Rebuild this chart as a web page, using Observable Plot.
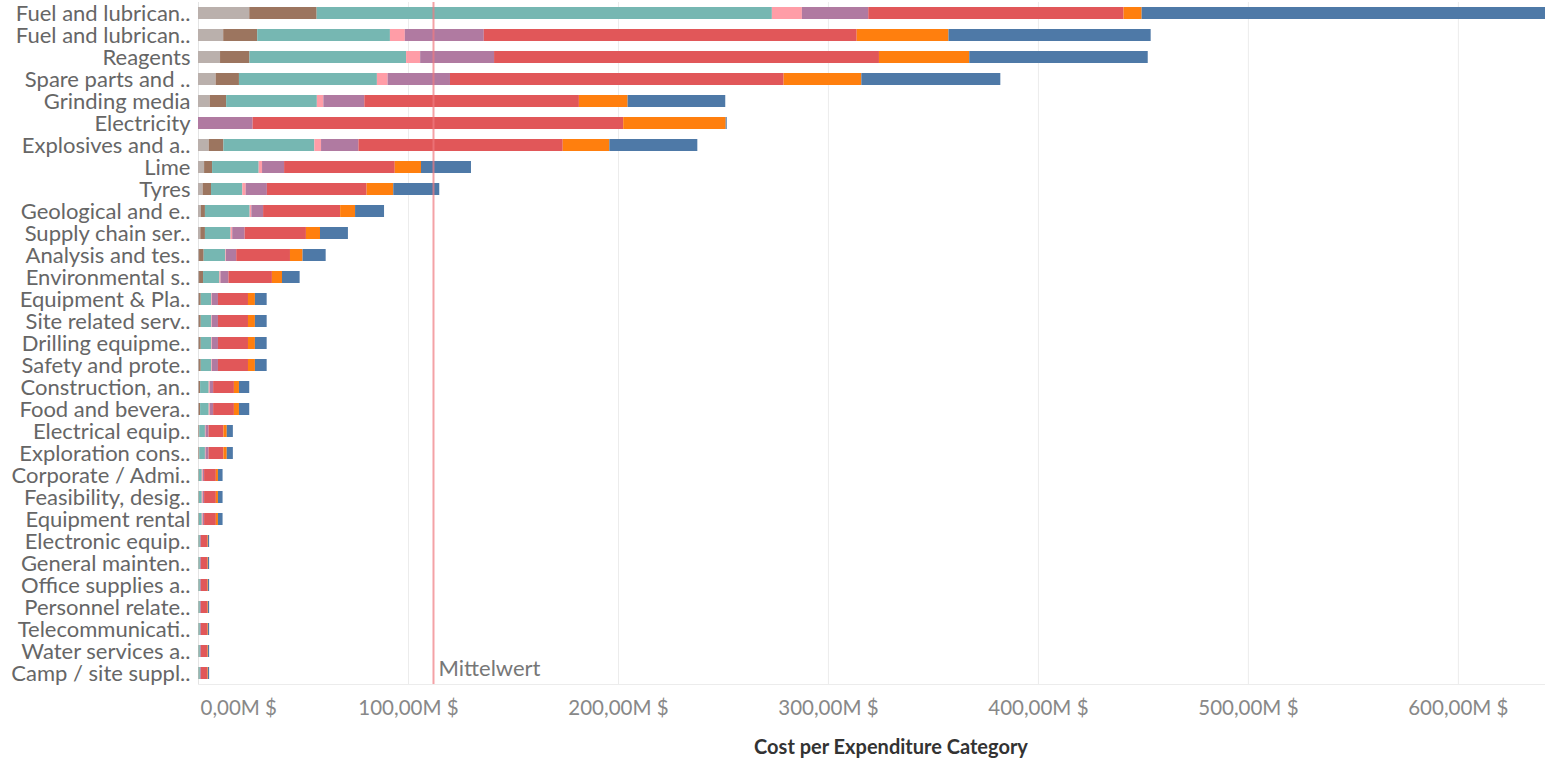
<!DOCTYPE html>
<html>
<head>
<meta charset="utf-8">
<script src="https://cdn.jsdelivr.net/npm/d3@7"></script>
<script src="https://cdn.jsdelivr.net/npm/@observablehq/plot@0.6"></script>
<style>
  html, body { margin: 0; padding: 0; background: #fff; overflow: hidden; }
  #chart { width: 1548px; }
  #title { position: absolute; left: 0; top: 733px; width: 1548px; box-sizing: border-box; padding-left: 234px;
           text-align: center; font: bold 20px Lato, sans-serif; color: #333; line-height: 26px; }
</style>
</head>
<body>
<div id="chart"></div>
<div id="title">Cost per Expenditure Category</div>
<script>
const labels = [
  "Fuel and lubrican..", "Fuel and lubrican..", "Reagents", "Spare parts and ..", "Grinding media",
  "Electricity", "Explosives and a..", "Lime", "Tyres", "Geological and e..", "Supply chain ser..",
  "Analysis and tes..", "Environmental s..", "Equipment & Pla..", "Site related serv..", "Drilling equipme..",
  "Safety and prote..", "Construction, an..", "Food and bevera..", "Electrical equip..", "Exploration cons..",
  "Corporate / Admi..", "Feasibility, desig..", "Equipment rental", "Electronic equip..", "General mainten..",
  "Office supplies a..", "Personnel relate..", "Telecommunicati..", "Water services a..", "Camp / site suppl.."
];
const seriesNames = ["S1", "S2", "S3", "S4", "S5", "S6", "S7", "S8"];
const seriesColors = ["#bab0ac", "#9c755f", "#76b7b2", "#ff9da7", "#b07aa1", "#e15759", "#ff7f0e", "#4e79a7"];

// values in millions of $
const s1 = [24.4, 12.0, 10.5, 8.4, 5.6, 0, 5.1, 2.9, 2.2, 1.4, 1.1, 0.5, 0.5, 0.5, 0.5, 0.5, 0.5, 0.4, 0.4, 0.3, 0.3, 0.3, 0.3, 0.3, 0.2, 0.2, 0.2, 0.2, 0.2, 0.2, 0.2];
const s2 = [32.1, 16.2, 14.0, 11.1, 7.8, 0, 7.0, 3.8, 4.0, 1.9, 2.2, 2.2, 1.9, 0.8, 0.8, 0.8, 0.8, 0.6, 0.6, 0.3, 0.3, 0.1, 0.1, 0.1, 0.1, 0.1, 0.1, 0.1, 0.1, 0.1, 0.1];
const s3 = [216.8, 63.2, 74.6, 65.7, 43.2, 0, 43.3, 22.2, 14.9, 21.3, 12.2, 10.3, 7.8, 5.0, 5.0, 5.0, 5.0, 4.1, 4.1, 2.7, 2.7, 1.4, 1.4, 1.4, 0.6, 0.6, 0.6, 0.6, 0.6, 0.6, 0.6];
const s4 = [14.3, 7.1, 6.7, 5.1, 3.1, 0, 3.2, 1.6, 1.6, 0.8, 0.8, 0.3, 0.5, 0.3, 0.3, 0.3, 0.3, 0.5, 0.5, 0.3, 0.3, 0.5, 0.5, 0.5, 0.1, 0.1, 0.1, 0.1, 0.1, 0.1, 0.1];
const s5 = [31.6, 37.6, 35.2, 29.7, 19.5, 26.0, 17.8, 10.5, 10.1, 5.6, 5.9, 4.9, 3.8, 2.9, 2.9, 2.9, 2.9, 1.6, 1.6, 1.4, 1.4, 0.6, 0.6, 0.6, 0.4, 0.4, 0.4, 0.4, 0.4, 0.4, 0.4];
const s6 = [121.6, 177.6, 183.3, 158.9, 102.2, 176.5, 97.3, 52.7, 47.5, 36.7, 29.2, 25.6, 20.7, 14.3, 14.3, 14.3, 14.3, 9.9, 9.9, 7.1, 7.1, 5.6, 5.6, 5.6, 3.0, 3.0, 3.0, 3.0, 3.0, 3.0, 3.0];
const s7 = [8.6, 43.7, 43.0, 37.0, 23.2, 48.8, 22.2, 12.5, 12.7, 7.1, 6.7, 6.0, 4.8, 3.3, 3.3, 3.3, 3.3, 2.4, 2.4, 1.6, 1.6, 1.0, 1.0, 1.0, 0.3, 0.3, 0.3, 0.3, 0.3, 0.3, 0.3];
const s8 = [192.1, 96.3, 85.0, 66.2, 46.5, 0.5, 41.9, 23.8, 21.9, 13.8, 13.3, 11.0, 8.4, 5.6, 5.6, 5.6, 5.6, 4.9, 4.9, 2.9, 2.9, 2.2, 2.2, 2.2, 0.6, 0.6, 0.6, 0.6, 0.6, 0.6, 0.6];
const xTicks = [0, 100, 200, 300, 400, 500, 600];
const meanLabel = "Mittelwert";

const seriesValues = [s1, s2, s3, s4, s5, s6, s7, s8];
const ids = labels.map((d, i) => i);
const data = [];
seriesValues.forEach((vals, si) => {
  vals.forEach((v, i) => data.push({id: i, series: seriesNames[si], value: v}));
});
const totals = ids.map(i => d3.sum(seriesValues, s => s[i]));
const mean = d3.mean(totals);
const xMax = d3.max(totals);
const fmt = d => d.toFixed(2).replace(".", ",") + "M $";
const lastId = ids[ids.length - 1];

const chart = Plot.plot({
  width: 1548,
  height: 730,
  marginLeft: 198,
  marginRight: 3,
  marginTop: 2,
  marginBottom: 46,
  style: {fontFamily: "Lato, sans-serif", background: "#fff"},
  x: {domain: [0, xMax]},
  y: {domain: ids, paddingInner: 0.45, paddingOuter: 0.225},
  color: {domain: seriesNames, range: seriesColors},
  marks: [
    Plot.gridX({ticks: xTicks.filter(d => d > 0), stroke: "#ececec", strokeOpacity: 1}),
    Plot.ruleX([0], {stroke: "#e4e4e4"}),
    Plot.ruleY([lastId], {dy: 11, stroke: "#ececec"}),
    Plot.barX(data, {y: "id", x: "value", fill: "series"}),
    Plot.ruleX([mean], {stroke: "#f07a80", strokeOpacity: 0.7, strokeWidth: 2}),
    Plot.text([mean], {x: d => d, y: () => lastId, text: () => meanLabel, textAnchor: "start",
      dx: 5, dy: -5, fontSize: 22, fill: "#777"}),
    Plot.axisY({tickSize: 0, tickPadding: 8, fontSize: 22, fill: "#666", label: null, tickFormat: i => labels[i]}),
    Plot.axisX({ticks: xTicks.filter(d => d > 0), tickSize: 0, tickPadding: 16, fontSize: 20.5, fill: "#888",
      label: null, tickFormat: fmt}),
    Plot.axisX({ticks: [0], tickSize: 0, tickPadding: 16, fontSize: 20.5, fill: "#888", textAnchor: "start", dx: 2,
      label: null, tickFormat: fmt})
  ]
});
document.getElementById("chart").appendChild(chart);
</script>
</body>
</html>
